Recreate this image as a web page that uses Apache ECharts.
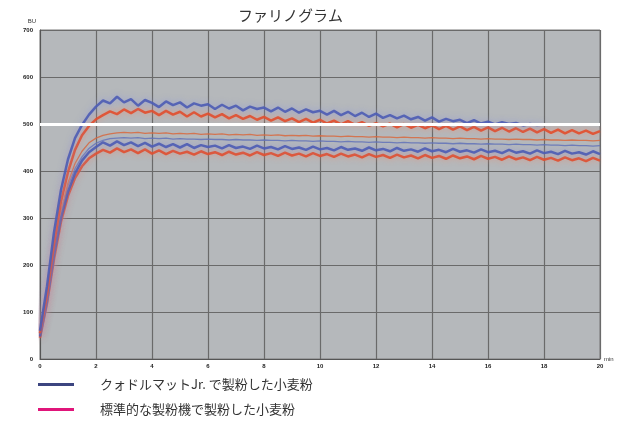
<!DOCTYPE html>
<html>
<head>
<meta charset="utf-8">
<script src="https://cdn.jsdelivr.net/npm/echarts@6/dist/echarts.min.js"></script>
<style>html,body{margin:0;padding:0;background:#fff;}#c{width:625px;height:421px;}</style>
</head>
<body>
<div id="c"></div>
<script>
const minutes = [0,0.25,0.5,0.75,1,1.25,1.5,1.75,2,2.25,2.5,2.75,3,3.25,3.5,3.75,4,4.25,4.5,4.75,5,5.25,5.5,5.75,6,6.25,6.5,6.75,7,7.25,7.5,7.75,8,8.25,8.5,8.75,9,9.25,9.5,9.75,10,10.25,10.5,10.75,11,11.25,11.5,11.75,12,12.25,12.5,12.75,13,13.25,13.5,13.75,14,14.25,14.5,14.75,15,15.25,15.5,15.75,16,16.25,16.5,16.75,17,17.25,17.5,17.75,18,18.25,18.5,18.75,19,19.25,19.5,19.75,20];
const xTicks = [0,2,4,6,8,10,12,14,16,18,20];
const yTicks = [0,100,200,300,400,500,600,700];
const seriesNames = ['クォドルマットJr. で製粉した小麦粉','標準的な製粉機で製粉した小麦粉'];

const blueUpper = [60,155,270,360,425,470,498,520,537,550,544,558,546,553,539,551,545,536,548,540,546,535,544,539,542,532,541,533,539,529,537,532,535,527,535,526,533,524,531,525,528,520,528,519,526,517,524,515,522,513,519,512,518,510,515,507,514,505,511,506,509,502,508,501,505,499,504,500,502,497,500,498,499];
const redUpper = [55,135,245,335,398,445,476,496,510,519,527,521,531,523,532,524,528,519,528,520,526,516,525,516,522,514,521,512,519,511,517,509,515,507,514,506,512,504,511,503,509,501,507,499,506,498,504,496,502,495,501,493,500,492,498,491,497,489,496,488,495,487,494,486,493,485,492,484,491,483,490,482,489,481,488,480,487,480,486,479,485];
const redMid = [50,128,230,315,375,416,442,460,470,476,479,481,482,481,482,480,481,480,481,479,480,479,480,478,479,478,479,477,478,477,478,476,477,476,477,475,476,475,476,474,475,474,474,473,474,473,473,472,473,472,472,471,472,471,471,470,471,470,470,469,470,469,469,468,469,468,468,467,468,467,467,466,467,466,466,465,466,465,465,464,465];
const blueMid = [52,132,236,314,368,405,430,448,459,465,469,470,471,470,471,469,470,469,470,468,469,468,468,467,468,467,467,466,467,466,466,465,466,465,465,464,465,464,464,463,464,463,463,462,463,462,462,461,462,461,461,460,461,460,460,459,460,459,459,458,459,458,458,457,458,457,457,456,457,456,456,455,456,455,455,454,455,454,454,453,454];
const blueLower = [48,122,220,300,356,395,422,440,451,461,454,463,455,461,453,460,452,458,451,457,450,457,449,455,451,454,448,455,449,452,447,454,448,451,446,453,447,450,445,452,446,449,444,451,445,448,443,450,444,447,442,449,443,446,441,448,442,445,440,447,441,444,439,446,440,443,438,445,439,442,437,444,438,441,436,443,437,440,435,442,436];
const redLower = [45,118,212,292,347,385,410,427,437,445,439,448,440,446,438,446,437,444,436,443,437,441,435,442,436,440,434,441,435,439,433,440,434,438,432,439,433,437,431,438,432,436,430,437,431,435,429,436,430,434,428,435,429,433,427,434,428,432,426,433,427,431,425,432,426,430,424,431,425,429,423,430,424,428,422,429,423,427,421,428,422];
const referenceLevel = 500;

function pairs(vals){ return vals.map((v,i)=>[minutes[i], v]); }

const BLUE = '#4c5cb4', RED = '#e24e2c';
function band(name, vals, color, halo){
  return {type:'line', name, data:pairs(vals), showSymbol:false, symbol:'none',
    lineStyle:{color, width:2.5, opacity:0.9, shadowBlur:6, shadowColor:halo},
    itemStyle:{color}, z:3};
}
function thin(name, vals, color){
  return {type:'line', name, data:pairs(vals), showSymbol:false, symbol:'none',
    lineStyle:{color, width:1.3, opacity:0.85}, itemStyle:{color}, z:2};
}

const chart = echarts.init(document.getElementById('c'), null, {renderer:'canvas'});
chart.setOption({
  animation:false,
  backgroundColor:'#ffffff',
  title:{text:'ファリノグラム', left:233, top:3,
    textStyle:{fontFamily:'Noto Sans CJK JP', fontSize:15, fontWeight:'normal', color:'#333'}},
  grid:{left:40, right:25, top:30, bottom:62, show:true, backgroundColor:'#b5b8bb', borderColor:'#7a7a7a', borderWidth:1},
  legend:{
    orient:'vertical', left:38, top:378, padding:0, itemGap:12, itemWidth:36, itemHeight:3, icon:'rect',
    textStyle:{fontFamily:'Noto Sans CJK JP', fontSize:13, color:'#333', padding:[0,0,0,21]},
    data:[
      {name:seriesNames[0], itemStyle:{color:'#3c4580'}},
      {name:seriesNames[1], itemStyle:{color:'#e0157a'}}
    ]
  },
  xAxis:{type:'value', min:0, max:20, interval:2,
    name:'min', nameLocation:'end', nameGap:4,
    nameTextStyle:{fontSize:6, color:'#333', padding:[14,0,0,0]},
    axisLine:{show:true, lineStyle:{color:'#555', width:1}},
    axisTick:{show:false},
    axisLabel:{fontSize:6, color:'#222', fontWeight:'bold', margin:4,
      formatter:v=>xTicks.indexOf(v)>=0?String(v):''},
    splitLine:{show:true, lineStyle:{color:'#6a6a6a', width:1.2}}},
  yAxis:{type:'value', min:0, max:700, interval:100,
    name:'BU', nameLocation:'end', nameGap:6,
    nameTextStyle:{fontSize:6, color:'#333', align:'right', padding:[0,4,0,0]},
    axisLine:{show:true, lineStyle:{color:'#555', width:1}},
    axisTick:{show:false},
    axisLabel:{fontSize:6, color:'#222', fontWeight:'bold', margin:7,
      formatter:v=>yTicks.indexOf(v)>=0?String(v):''},
    splitLine:{show:true, lineStyle:{color:'#6a6a6a', width:1.2}}},
  series:[
    thin(seriesNames[0], blueMid, '#6272b8'),
    thin(seriesNames[1], redMid, '#d8683e'),
    band(seriesNames[1], redLower, RED, 'rgba(240,140,110,0.8)'),
    band(seriesNames[0], blueLower, BLUE, 'rgba(140,150,220,0.8)'),
    band(seriesNames[1], redUpper, RED, 'rgba(240,140,110,0.8)'),
    band(seriesNames[0], blueUpper, BLUE, 'rgba(140,150,220,0.8)'),
    {type:'line', name:'ref', data:[], z:10, silent:true,
      markLine:{silent:true, symbol:'none', label:{show:false},
        lineStyle:{color:'#ffffff', width:3, type:'solid'},
        data:[{yAxis:referenceLevel}]}}
  ]
});
</script>
</body>
</html>
